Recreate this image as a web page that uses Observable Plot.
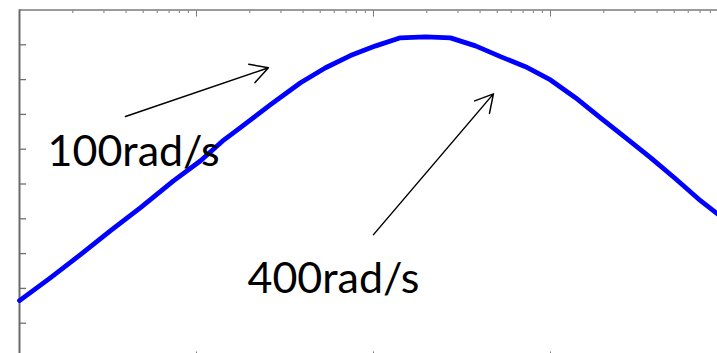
<!DOCTYPE html>
<html>
<head>
<meta charset="utf-8">
<script src="https://cdn.jsdelivr.net/npm/d3@7"></script>
<script src="https://cdn.jsdelivr.net/npm/@observablehq/plot@0.6"></script>
<style>
  html, body { margin: 0; padding: 0; background: #fff; overflow: hidden; }
  #chart svg { overflow: hidden; display: block; }
</style>
</head>
<body>
<div id="chart"></div>
<script>
// Curve (log-frequency axis, linear value axis)
const freq  = [1, 1.5, 2.21, 3.27, 4.83, 7.41, 10.5, 14.0, 17.7, 26.2, 38.7, 53.6, 74.1, 103, 142, 197, 272, 377, 522, 722, 1000, 1384, 1917, 2653, 3673, 5084, 7039, 10000];
const value = [1.65, 2.31, 2.97, 3.66, 4.32, 5.09, 5.66, 6.23, 6.62, 7.28, 7.91, 8.34, 8.69, 8.97, 9.20, 9.23, 9.20, 8.97, 8.66, 8.37, 7.99, 7.48, 6.90, 6.33, 5.76, 5.15, 4.52, 3.92];

// Axis ticks
const xMajorTicks = [1, 10, 100, 1000, 10000];
const yTicks = [1, 2, 3, 4, 5, 6, 7, 8, 9];

// Annotations
const labelText = ["100rad/s", "400rad/s"];
const labelX = [1.44, 19.4];
const labelY = [5.52, 1.87];
const arrowX1 = [3.97, 100];
const arrowY1 = [6.94, 3.545];
const arrowX2 = [25.5, 476];
const arrowY2 = [8.34, 7.59];

const curve = freq.map((f, i) => ({f, v: value[i]}));
const labels = labelText.map((t, i) => ({t, x: labelX[i], y: labelY[i]}));
const arrows = arrowX1.map((x1, i) => ({x1, y1: arrowY1[i], x2: arrowX2[i], y2: arrowY2[i]}));
const xMinorTicks = d3.scaleLog().domain([1, 10000]).ticks().filter(t => !xMajorTicks.includes(t));

const axisColor = "#7a7a7a";
const empty = () => "";

const plot = Plot.plot({
  width: 717,
  height: 353,
  marginLeft: 19,
  marginTop: 9.5,
  marginRight: 0,
  marginBottom: 0,
  style: {background: "#fff"},
  x: {type: "log", domain: [1, 10000], range: [19, 727]},
  y: {domain: [0, 10], range: [357.5, 9.5]},
  marks: [
    Plot.axisY(yTicks, {anchor: "left", tickSize: -7, tickFormat: empty, label: null, stroke: "#6e6e6e", strokeWidth: 1.3}),
    Plot.axisX(xMinorTicks, {anchor: "top", tickSize: -2.5, tickFormat: empty, label: null, stroke: axisColor, strokeWidth: 1}),
    Plot.axisX(xMajorTicks, {anchor: "top", tickSize: -6, tickFormat: empty, label: null, stroke: axisColor, strokeWidth: 1}),
    Plot.axisX(xMajorTicks, {anchor: "bottom", tickSize: -6, tickFormat: empty, label: null, stroke: axisColor, strokeWidth: 1, dy: 4.5}),
    Plot.ruleY([10], {stroke: axisColor, strokeWidth: 1.5}),
    Plot.ruleX([1], {stroke: "#6a6a6a", strokeWidth: 2}),
    Plot.line(curve, {x: "f", y: "v", stroke: "#0000ff", strokeWidth: 4.8, curve: "linear"}),
    Plot.arrow(arrows, {x1: "x1", y1: "y1", x2: "x2", y2: "y2", stroke: "#000", strokeWidth: 1.5, headLength: 20, headAngle: 58}),
    Plot.text(labels, {x: "x", y: "y", text: "t", textAnchor: "start", lineAnchor: "bottom", fontSize: 43, fontFamily: "Lato", fill: "#000"})
  ]
});
document.getElementById("chart").appendChild(plot);
</script>
</body>
</html>
